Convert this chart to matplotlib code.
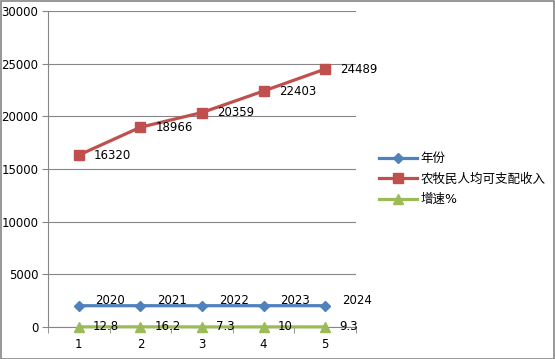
import matplotlib
matplotlib.use('Agg')
import matplotlib.pyplot as plt
import numpy as np

plt.rcParams['font.family'] = ['DejaVu Sans', 'Noto Sans CJK SC']

x = [1, 2, 3, 4, 5]
years = [2020, 2021, 2022, 2023, 2024]
income = [16320, 18966, 20359, 22403, 24489]
growth = [12.8, 16.2, 7.3, 10, 9.3]
labels = ['年份', '农牧民人均可支配收入', '增速%']

BLUE = '#4F81BD'
RED = '#C0504D'
GREEN = '#9BBB59'
GRAY = '#868686'
FS = 8.5

fig = plt.figure(figsize=(5.55, 3.59), dpi=100)
ax = fig.add_axes([48/555, 1-327/359, 308/555, 316/359])

ax.plot(x, years, color=BLUE, lw=2.3, marker='D', ms=5.5, label=labels[0], zorder=3, clip_on=False)
ax.plot(x, income, color=RED, lw=2.3, marker='s', ms=6.5, label=labels[1], zorder=3, clip_on=False)
ax.plot(x, growth, color=GREEN, lw=2.3, marker='^', ms=7.5, label=labels[2], zorder=3, clip_on=False)

for xi, v in zip(x, years):
    ax.annotate(str(v), (xi, v), xytext=(12, 4), textcoords='offset points',
                fontsize=FS, va='center', ha='left')
for xi, v in zip(x, income):
    ax.annotate(str(v), (xi, v), xytext=(11, 0), textcoords='offset points',
                fontsize=FS, va='center', ha='left')
for xi, v in zip(x, growth):
    ax.annotate(f'{v:g}', (xi, v), xytext=(10, 0), textcoords='offset points',
                fontsize=FS, va='center', ha='left')

ax.set_xlim(0.5, 5.5)
ax.set_ylim(0, 30000)
ax.set_yticks(np.arange(0, 30001, 5000))
ax.set_xticks(x)
ax.set_xticks(np.arange(0.5, 5.6, 1), minor=True)
ax.tick_params(axis='x', which='major', length=0, labelsize=FS, pad=8)
ax.tick_params(axis='x', which='minor', length=4, color=GRAY)
ax.tick_params(axis='y', length=4, color=GRAY, labelsize=FS, pad=3)
ax.grid(axis='y', color=GRAY, lw=0.8)
ax.set_axisbelow(True)
for s in ['top', 'right']:
    ax.spines[s].set_visible(False)
for s in ['left', 'bottom']:
    ax.spines[s].set_color(GRAY)
    ax.spines[s].set_linewidth(0.8)

leg = fig.legend(loc='center left', bbox_to_anchor=(368/555, 1-179/359), frameon=False,
                 fontsize=9, handlelength=3, handletextpad=0.3, labelspacing=0.6)

fig.patches.append(plt.Rectangle((0.001, 0.001), 0.997, 0.997, transform=fig.transFigure,
                                 fill=False, edgecolor=GRAY, lw=1.2))

fig.savefig('out.png', dpi=100)
